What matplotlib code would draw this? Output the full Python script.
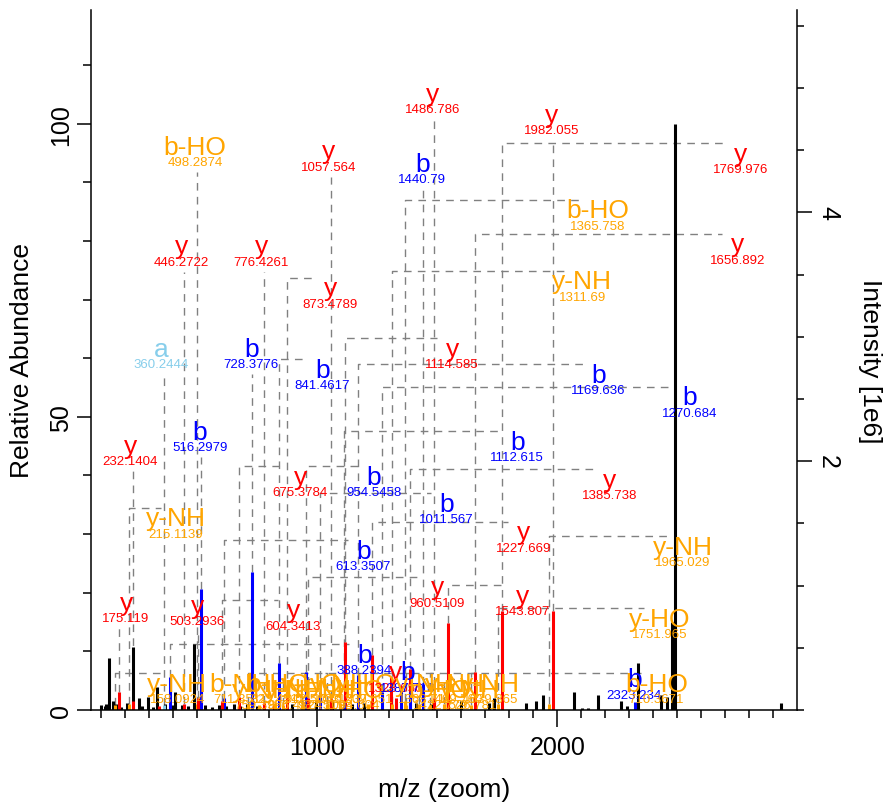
import matplotlib.pyplot as plt
import numpy as np

plt.rcParams['font.family'] = ['Liberation Sans', 'DejaVu Sans']

# intensity of the 100 % peak, in 1e6
max_intensity = 4.713

# peaks without a label: m/z, relative abundance (%), colour
peak_mz = [100, 115, 120, 132, 150, 162, 185, 208, 233, 257, 270, 295, 315, 333, 342,
           366, 400, 409, 437, 460, 485, 532, 560, 589, 620, 653, 680, 707, 750, 818,
           894, 950, 997, 1060, 1143, 1193, 1307, 1330, 1350, 1413, 1475, 1600, 1716,
           1737, 1870, 1911, 1940, 2070, 2101, 2126, 2168, 2267, 2292, 2335, 2433,
           2457, 2478, 2492, 2933]
peak_rel = [0.8, 0.6, 1.0, 8.9, 1.5, 1.0, 0.5, 1.2, 10.7, 2.0, 0.6, 2.2, 0.5, 3.9, 0.7,
            1.0, 0.8, 3.0, 0.8, 0.7, 11.2, 0.8, 0.5, 0.8, 0.6, 1.0, 0.7, 1.0, 0.6, 1.0,
            1.0, 0.8, 1.5, 1.5, 1.0, 1.2, 5.6, 1.3, 4.1, 1.2, 1.0, 1.5, 1.2,
            2.0, 1.2, 1.5, 2.5, 3.0, 0.4, 0.4, 2.6, 1.6, 0.7, 8.0, 2.6,
            2.2, 15.0, 100, 1.2]
peak_col = ['k', 'k', 'k', 'k', 'k', 'k', 'k', 'k', 'k', 'k', 'k', 'k', 'k', 'k', 'red',
            'k', 'k', 'k', 'k', 'k', 'k', 'k', 'k', 'k', 'k', 'k', 'k', 'k', 'k', 'red',
            'k', 'k', 'k', 'k', 'k', 'k', 'red', 'k', 'blue', 'k', 'k', 'k', 'k',
            'k', 'k', 'k', 'k', 'k', 'k', 'k', 'k', 'k', 'k', 'k', 'k',
            'k', 'k', 'k', 'k']

# matched fragment ions: type, m/z text, peak height (%), label m/z, label height (%)
ion_kind = ['y', 'y', 'b-HO', 'y', 'b', 'y', 'b-HO', 'y', 'y', 'y',
            'y-NH', 'y', 'a', 'b', 'b', 'y', 'b', 'b', 'b', 'y',
            'b', 'y', 'b', 'y', 'b', 'y-NH', 'y', 'b', 'y-NH', 'y',
            'y', 'y', 'y', 'y', 'y-HO', 'b', 'b', 'b-HO',
            'y-NH', 'b-NH', 'y-NH', 'b-HO', 'y-NH', 'y-HO', 'b-NH', 'y-NH', 'b-HO',
            'y-HO', 'y', 'b', 'y-NH', 'b-HO', 'y-NH', 'y-NH', 'y-NH']
ion_mz = ['1486.786', '1982.055', '498.2874', '1057.564', '1440.79', '1769.976',
          '1365.758', '446.2722', '776.4261', '1656.892', '1311.69', '873.4789',
          '360.2444', '728.3776', '841.4617', '1114.585', '1169.636', '1270.684',
          '516.2979', '232.1404', '1112.615', '675.3784', '954.5458', '1385.738',
          '1011.567', '215.1139', '1227.669', '613.3507', '1965.029', '175.119',
          '503.2936', '604.3413', '960.5109', '1543.807', '1751.965', '388.2394',
          '2323.234', '710.3671',
          '158.0924', '711.3511', '759.3996', '823.4511', '856.4524', '942.5003',
          '937.5193', '1040.537', '1094.604', '1209.651', '1328.656', '1387.718',
          '1368.711', '1422.779', '1469.760', '1526.781', '1639.865']
ion_rel = [2.0, 16.9, 1.0, 2.0, 4.5, 16.9, 1.5, 1.0, 1.2, 6.5,
           1.0, 3.0, 0.8, 23.5, 8.0, 11.6, 6.0, 3.0, 20.7, 1.5,
           1.4, 2.2, 6.4, 7.0, 3.0, 1.0, 9.4, 2.0, 1.0, 3.0,
           2.0, 1.6, 2.0, 14.8, 1.0, 5.7, 1.4, 1.0,
           0.8, 1.0, 0.8, 1.2, 0.8, 1.0, 0.8, 1.0, 1.2,
           1.0, 2.0, 3.0, 0.8, 1.0, 0.8, 1.0, 0.8]
label_x = [1479, 1975, 492, 1046, 1437, 2762, 2167, 433, 767, 2750,
           2104, 1054, 350, 725, 1021, 1562, 2171, 2550, 512, 221,
           1833, 929, 1237, 2217, 1537, 412, 1858, 1192, 2521, 204,
           500, 900, 1500, 1854, 2425, 1196, 2321, 2412,
           417, 679, 771, 837, 908, 979, 1033, 1096, 1146,
           1200, 1325, 1375, 1450, 1512, 1575, 1637, 1721]
label_y = [102.5, 98.9, 93.4, 92.7, 90.5, 92.2, 82.6, 76.5, 76.5, 76.8,
           70.5, 69.3, 59.0, 59.0, 55.4, 59.0, 54.6, 50.7, 44.8, 42.4,
           43.1, 37.1, 37.1, 36.6, 32.5, 30.1, 27.7, 24.5, 25.2, 15.7,
           15.1, 14.4, 18.3, 16.9, 13.0, 6.8, 2.6, 1.9,
           1.9, 1.9, 0.86, 1.9, 0.86, 1.9, 0.86, 1.9, 0.86,
           1.9, 3.8, 3.8, 1.9, 0.86, 1.9, 0.86, 1.9]

ion_colors = {'y': 'red', 'b': 'blue', 'a': 'skyblue',
              'b-HO': 'orange', 'y-HO': 'orange', 'b-NH': 'orange', 'y-NH': 'orange'}

x_lo, x_hi = 58, 2998
y_hi = 119.4

fig = plt.figure(figsize=(8.85, 8.03), dpi=100)
ax = fig.add_axes([91 / 885, 92 / 803, 706 / 885, 700 / 803])
ax.set_xlim(x_lo, x_hi)
ax.set_ylim(0, y_hi)

mz_per_px = (x_hi - x_lo) / 706
pct_per_px = y_hi / 700

# spectrum sticks
ax.vlines(peak_mz, 0, peak_rel, colors=peak_col, lw=2.2, zorder=2)
ion_pos = [float(m) for m in ion_mz]
ax.vlines(ion_pos, 0, ion_rel, colors=[ion_colors[k] for k in ion_kind], lw=2.2, zorder=2)

# leader lines from each peak to its label
for mz, h, lx, ly in zip(ion_pos, ion_rel, label_x, label_y):
    if abs(lx - mz) / mz_per_px < 12:
        xs = [mz, mz]
        ys = [h, ly - 10 * pct_per_px]
    else:
        yh = ly + 26 * pct_per_px
        end = lx - np.sign(lx - mz) * 15 * mz_per_px
        xs = [mz, mz, end]
        ys = [h, yh, yh]
    if max(ys) <= h:
        continue
    ax.plot(xs, ys, color='grey', lw=1.0, ls=(0, (5.5, 4.5)), zorder=1)

# labels: ion type above, m/z below
for kind, txt, lx, ly in zip(ion_kind, ion_mz, label_x, label_y):
    c = ion_colors[kind]
    ax.annotate(txt, (lx, ly), ha='center', va='center', fontsize=9.5, color=c, zorder=3)
    ax.annotate(kind, (lx, ly), xytext=(0, 11), textcoords='offset points',
                ha='center', va='center', fontsize=19, color=c, zorder=3)

# axes styling
for s in ['top', 'right']:
    ax.spines[s].set_visible(False)
for s in ['left', 'bottom']:
    ax.spines[s].set_linewidth(1.1)

ax.set_xticks([1000, 2000])
ax.set_xticks(range(100, 3000, 100), minor=True)
ax.tick_params(axis='x', which='major', length=12, width=1.1, labelsize=18, pad=6)
ax.tick_params(axis='x', which='minor', length=5.8, width=1.1)

ax.set_yticks([0, 50, 100])
ax.set_yticks(range(0, 120, 10), minor=True)
ax.tick_params(axis='y', which='major', length=10, width=1.1, labelsize=18, pad=3,
               labelrotation=90)
ax.tick_params(axis='y', which='minor', length=5.8, width=1.1)
for t in ax.get_yticklabels():
    t.set_va('center')

ax.set_xlabel('m/z (zoom)', fontsize=19, va='center')
ax.xaxis.set_label_coords(0.5, -0.113)
ax.set_ylabel('Relative Abundance', fontsize=19, va='center')
ax.yaxis.set_label_coords(-0.0977, 0.5)

ax2 = ax.twinx()
ax2.set_ylim(0, y_hi * max_intensity / 100)
for s in ['top', 'left', 'bottom']:
    ax2.spines[s].set_visible(False)
ax2.spines['right'].set_linewidth(1.1)
ax2.set_yticks([2, 4])
ax2.set_yticks(np.arange(0, 5.6, 0.5), minor=True)
ax2.tick_params(axis='y', which='major', length=10.8, width=1.1, labelsize=18, pad=3,
                labelrotation=270)
ax2.tick_params(axis='y', which='minor', length=5, width=1.1)
for t in ax2.get_yticklabels():
    t.set_va('center')
ax2.set_ylabel('Intensity [1e6]', fontsize=19, rotation=270, va='center')
ax2.yaxis.set_label_coords(1.1034, 0.5)

fig.savefig('out.png', dpi=100)
